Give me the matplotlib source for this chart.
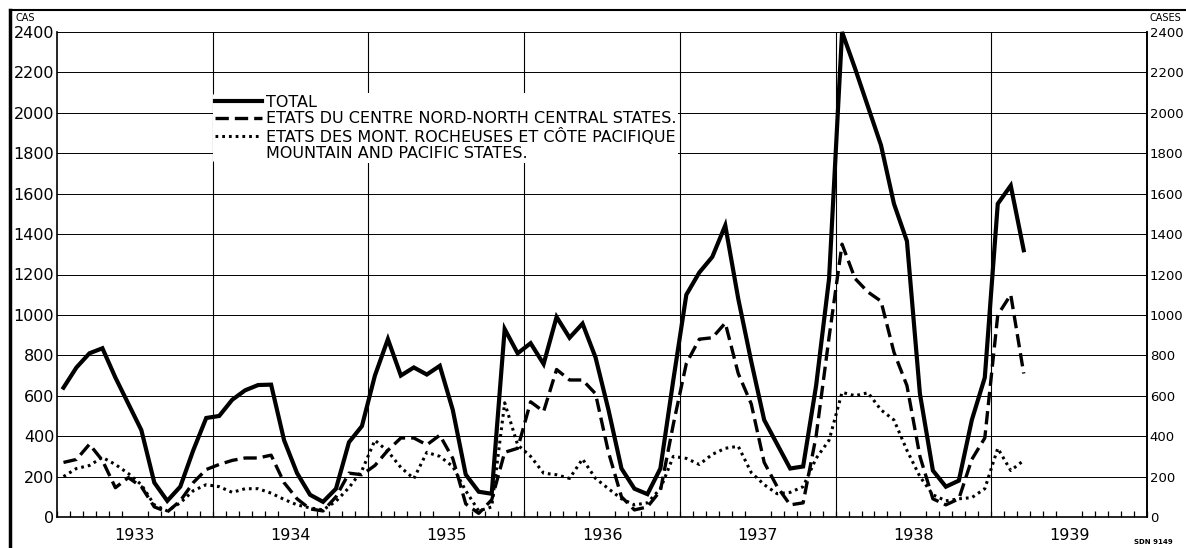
import matplotlib
matplotlib.use("Agg")
import matplotlib.pyplot as plt
from matplotlib.lines import Line2D
import numpy as np

# ---------------- data (monthly, Jan 1933 - Mar 1939) ----------------
start_year = 1933
total = [
    640, 740, 810, 835, 690, 560, 430, 170, 80, 150, 330, 490,      # 1933
    500, 580, 627, 653, 655, 380, 217, 110, 75, 140, 370, 450,      # 1934
    700, 880, 700, 740, 705, 748, 530, 210, 125, 115, 930, 810,     # 1935
    860, 757, 990, 887, 957, 790, 530, 240, 140, 113, 240, 680,     # 1936
    1100, 1210, 1287, 1443, 1080, 770, 480, 360, 240, 250, 650, 1180,  # 1937
    2400, 2220, 2030, 1840, 1550, 1365, 610, 230, 150, 180, 480, 690,  # 1938
    1550, 1640, 1320,                                               # 1939
]
north_central = [
    270, 285, 360, 280, 145, 195, 150, 50, 25, 80, 170, 235,
    260, 280, 292, 292, 306, 170, 90, 40, 30, 100, 217, 209,
    255, 330, 391, 391, 357, 405, 290, 65, 18, 85, 320, 340,
    570, 522, 730, 678, 678, 610, 320, 100, 35, 50, 130, 460,
    760, 880, 887, 960, 710, 560, 270, 150, 60, 70, 400, 890,
    1350, 1180, 1113, 1068, 815, 650, 300, 90, 60, 90, 285, 391,
    1000, 1100, 710,
]
mountain_pacific = [
    200, 240, 255, 295, 260, 215, 160, 60, 30, 70, 130, 160,
    150, 122, 140, 140, 118, 87, 60, 45, 35, 78, 145, 230,
    380, 325, 245, 190, 320, 300, 250, 130, 30, 50, 565, 357,
    300, 217, 209, 191, 287, 191, 140, 90, 60, 70, 140, 300,
    290, 260, 310, 340, 350, 220, 160, 115, 122, 150, 290, 380,
    617, 600, 615, 530, 480, 330, 200, 110, 80, 90, 96, 140,
    340, 230, 280,
]
years = [1933, 1934, 1935, 1936, 1937, 1938, 1939]
year_labels = ["1933", "1934", "1935", "1936", "1937", "1938", "1939"]
y_ticks = list(range(0, 2401, 200))
legend_labels = [
    "TOTAL",
    "ETATS DU CENTRE NORD-NORTH CENTRAL STATES.",
    "ETATS DES MONT. ROCHEUSES ET CÔTE PACIFIQUE",
    "MOUNTAIN AND PACIFIC STATES.",
]

# ---------------- figure ----------------
W, H = 1186, 548
fig = plt.figure(figsize=(W / 100, H / 100), dpi=100)
fig.patch.set_facecolor("white")
ax = fig.add_axes([57 / W, (H - 517) / H, 1090 / W, 485 / H])

x = start_year + (np.arange(len(total)) + 0.5) / 12.0

ax.set_xlim(1933, 1940)
ax.set_ylim(0, 2400)

# grid
for v in y_ticks[1:]:
    ax.axhline(v, color="black", lw=0.7, zorder=1)
for yr in years[1:]:
    ax.axvline(yr, color="black", lw=0.8, zorder=1)

ln_total, = ax.plot(x, total, color="black", lw=3.0, solid_joinstyle="miter",
                    clip_on=False, zorder=5)
ln_nc, = ax.plot(x, north_central, color="black", lw=2.4,
                 linestyle=(0, (4.0, 1.8)), clip_on=False, zorder=4)
ln_mp, = ax.plot(x, mountain_pacific, color="black", lw=2.2,
                 linestyle=(0, (0.9, 1.3)), clip_on=False, zorder=4)

# axes styling
ax.spines["top"].set_visible(False)
for s in ["left", "right", "bottom"]:
    ax.spines[s].set_linewidth(1.2)

ax.set_yticks(y_ticks)
ax.set_yticklabels([str(v) for v in y_ticks], fontsize=11.5)
ax.tick_params(axis="y", length=0, pad=2)

ax.set_xticks([yr + 0.5 for yr in years])
ax.set_xticklabels(year_labels, fontsize=11.5)
ax.tick_params(axis="x", which="major", length=0, pad=8)
ax.set_xticks(np.arange(1933, 1940 + 1e-9, 1 / 12), minor=True)
ax.tick_params(axis="x", which="minor", direction="in", length=4, width=0.9)

ax2 = ax.twinx()
ax2.set_ylim(0, 2400)
ax2.set_yticks(y_ticks)
ax2.set_yticklabels([str(v) for v in y_ticks], fontsize=9.5)
ax2.tick_params(axis="y", length=0, pad=2)
for s in ["top", "left", "bottom"]:
    ax2.spines[s].set_visible(False)
ax2.spines["right"].set_linewidth(1.2)

# legend
blank = Line2D([], [], color="none")
leg = ax.legend([ln_total, ln_nc, ln_mp, blank], legend_labels,
                loc="upper left", bbox_to_anchor=(0.143, 0.875),
                frameon=True, fontsize=11.5, handlelength=2.9,
                handletextpad=0.25, labelspacing=0.08, borderpad=0.15,
                borderaxespad=0.0)
leg.get_frame().set_facecolor("white")
leg.get_frame().set_edgecolor("none")
leg.get_frame().set_alpha(1.0)
leg.set_zorder(6)

# axis unit labels
fig.text(15 / W, 1 - 18 / H, "CAS", fontsize=7, va="center", ha="left")
fig.text(1150 / W, 1 - 18 / H, "CASES", fontsize=7, va="center", ha="left")
fig.text(1134 / W, 1 - 542 / H, "SDN 9149", fontsize=5, fontweight="bold",
         va="center", ha="left")

# outer frame lines (top and left border)
fig.add_artist(Line2D([10 / W, 1.0], [1 - 10 / H, 1 - 10 / H],
                      transform=fig.transFigure, color="black", lw=1.5))
fig.add_artist(Line2D([10 / W, 10 / W], [0, 1 - 10 / H],
                      transform=fig.transFigure, color="black", lw=2.5))

fig.savefig("out.png", dpi=100)
